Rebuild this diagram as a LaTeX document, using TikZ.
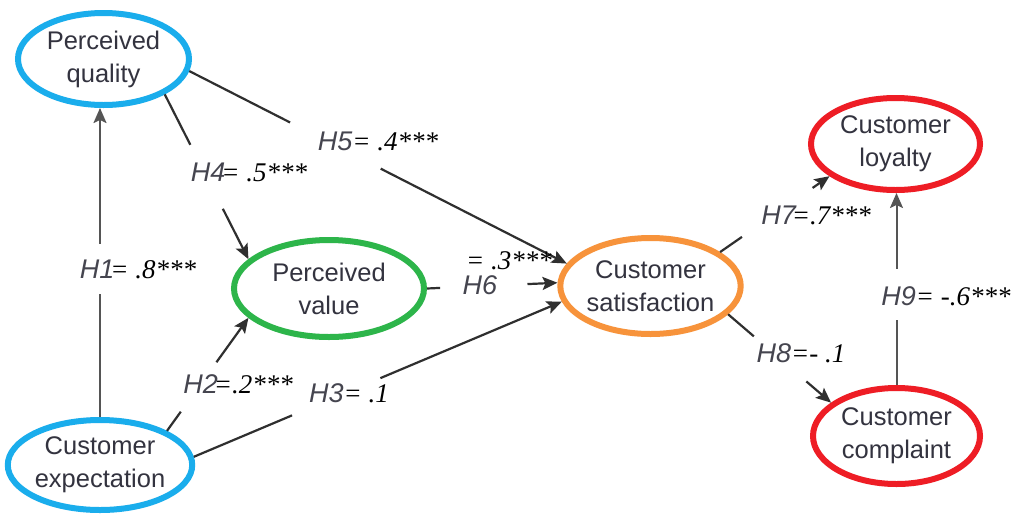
\documentclass[tikz,border=0pt]{standalone}
\usepackage{fontspec}
\setmainfont{Liberation Sans}
\newfontfamily\tnr{Liberation Serif}
\usetikzlibrary{shapes.geometric,arrows.meta}
\definecolor{blueE}{HTML}{1AADEC}
\definecolor{greenE}{HTML}{2DB54A}
\definecolor{orangeE}{HTML}{F7933B}
\definecolor{redE}{HTML}{EE1D25}
\definecolor{txtc}{HTML}{33333F}
\definecolor{edgec}{HTML}{2F2F2F}
\definecolor{edgel}{HTML}{555555}
\definecolor{labh}{HTML}{45454F}
\newcommand\hyp[2]{{\itshape\color{labh}#1}{\tnr\itshape #2}}
\tikzset{
  ell/.style={ellipse, line width=6pt, align=center, inner sep=0pt,
    font=\fontsize{25.5}{33}\selectfont, text=txtc},
  conn/.style={draw=edgec, line width=2.2pt},
  connl/.style={draw=edgel, line width=2pt},
  arr/.style={-{Stealth[length=15pt,width=13pt,inset=3pt]}},
  lab/.style={inner sep=0pt, font=\fontsize{27}{30}\selectfont}
}
\begin{document}
\begin{tikzpicture}[x=1pt,y=-1pt]
\fill[white] (0,0) rectangle (1017,520);
\useasboundingbox (0,0) rectangle (1017,520);
% nodes
\node[ell, draw=blueE, minimum width=171pt, minimum height=92pt] (qual) at (103.5,59) {Perceived\\quality};
\node[ell, draw=blueE, minimum width=174pt, minimum height=90pt] (exp) at (100,465) {Customer\\expectation};
\node[ell, draw=greenE, minimum width=190pt, minimum height=97pt] (val) at (329,288.5) {Perceived\\value};
\node[ell, draw=orangeE, minimum width=179pt, minimum height=96pt] (sat) at (650.5,286) {Customer\\satisfaction};
\node[ell, draw=redE, minimum width=169pt, minimum height=92pt] (loy) at (895.5,144) {Customer\\loyalty};
\node[ell, draw=redE, minimum width=167pt, minimum height=96pt] (comp) at (896.5,436) {Customer\\complaint};
% gap coordinates along each connector
\path (exp.north) -- (exp.north |- qual.south) coordinate[pos=0.397] (h1a) coordinate[pos=0.561] (h1b);
\path (qual.-30.5) -- (val.160) coordinate[pos=0.306] (h4a) coordinate[pos=0.694] (h4b);
\path (qual.-8.4) -- (sat.165) coordinate[pos=0.267] (h5a) coordinate[pos=0.507] (h5b);
\path (exp.27) -- (val.200) coordinate[pos=0.17] (h2a) coordinate[pos=0.607] (h2b);
\path (exp.5) -- (sat.190) coordinate[pos=0.267] (h3a) coordinate[pos=0.507] (h3b);
\path (val.east) -- (sat.178) coordinate[pos=0.1] (h6a) coordinate[pos=0.77] (h6b);
\path (sat.26) -- (loy.206) coordinate[pos=0.2] (h7a) coordinate[pos=0.845] (h7b);
\path (sat.-20) -- (comp.153) coordinate[pos=0.25] (h8a) coordinate[pos=0.76] (h8b);
\path (comp.north) -- (comp.north |- loy.south) coordinate[pos=0.337] (h9a) coordinate[pos=0.606] (h9b);
% connectors
\draw[connl] (exp.north) -- (h1a);
\draw[connl, arr] (h1b) -- (exp.north |- qual.south);
\draw[conn] (qual.-30.5) -- (h4a);
\draw[conn, arr] (h4b) -- (val.160);
\draw[conn] (qual.-8.4) -- (h5a);
\draw[conn, arr] (h5b) -- (sat.165);
\draw[conn] (exp.27) -- (h2a);
\draw[conn, arr] (h2b) -- (val.200);
\draw[conn] (exp.5) -- (h3a);
\draw[conn, arr] (h3b) -- (sat.190);
\draw[conn] (val.east) -- (h6a);
\draw[conn, arr] (h6b) -- (sat.178);
\draw[conn] (sat.26) -- (h7a);
\draw[conn, arr] (h7b) -- (loy.206);
\draw[conn] (sat.-20) -- (h8a);
\draw[conn, arr] (h8b) -- (comp.153);
\draw[connl] (comp.north) -- (h9a);
\draw[connl, arr] (h9b) -- (comp.north |- loy.south);
% labels
\node[lab] (l1) at (138,269) {\hyp{H1}{\kern-4pt= .8***}};
\node[lab] (l4) at (249,172) {\hyp{H4}{\kern-4pt= .5***}};
\node[lab] (l5) at (378,141) {\hyp{H5}{= .4***}};
\node[lab] (l2) at (238,384) {\hyp{H2}{\kern-4pt=.2***}};
\node[lab] (l3) at (349,393) {\hyp{H3}{= .1}};
\node[lab] (l6a) at (509,261) {\hyp{}{= .3***}};
\node[lab] (l6b) at (480,285) {\hyp{H6}{}};
\node[lab] (l7) at (816,215) {\hyp{H7}{\kern-4pt=.7***}};
\node[lab] (l8) at (801,353) {\hyp{H8}{=- .1}};
\node[lab] (l9) at (946,296) {\hyp{H9}{= -.6***}};
\end{tikzpicture}
\end{document}
